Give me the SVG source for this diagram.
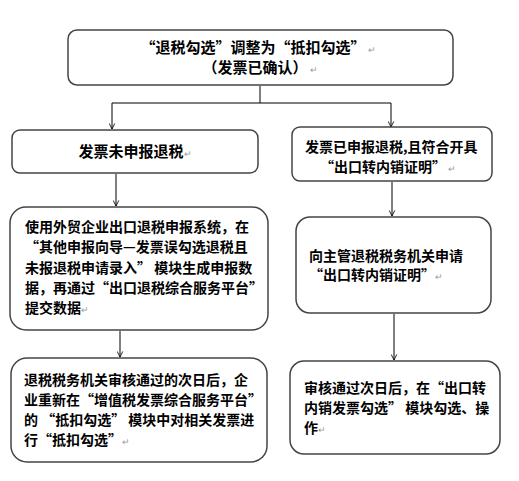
<svg xmlns="http://www.w3.org/2000/svg" width="519" height="481" viewBox="0 0 519 481">
<defs>
<style>
.box{fill:#fff;stroke:#444;stroke-width:1.5}
.t{font-family:"Noto Sans CJK SC","Liberation Sans",sans-serif;font-size:14px;font-weight:bold;fill:#000}
.big{font-size:15px}
.pm{font-size:9px;font-weight:normal;fill:#999}
.c{fill:none;stroke:#000;stroke-width:1}
</style>
<marker id="ah" viewBox="0 0 10 10" refX="9" refY="5" markerWidth="7" markerHeight="7" orient="auto" markerUnits="userSpaceOnUse">
<path d="M1,1 L9,5 L1,9" fill="none" stroke="#000" stroke-width="1.2"/>
</marker>
</defs>
<rect width="519" height="481" fill="#fff"/>
<g id="connectors">
<path class="c" d="M260,86 V103"/>
<path class="c" d="M112,103 H391"/>
<path class="c" d="M112,103 V129" marker-end="url(#ah)"/>
<path class="c" d="M391,103 V127" marker-end="url(#ah)"/>
<path class="c" d="M116,174 V206" marker-end="url(#ah)"/>
<path class="c" d="M392,182 V216" marker-end="url(#ah)"/>
<path class="c" d="M120,331 V357" marker-end="url(#ah)"/>
<path class="c" d="M394,314 V360" marker-end="url(#ah)"/>
</g>
<g id="top">
<rect class="box" x="68" y="30" width="385" height="55" rx="9"/>
<text class="t big" x="258" y="53" text-anchor="middle">“退税勾选”调整为“抵扣勾选”<tspan class="pm"> ↵</tspan></text>
<text class="t big" x="260" y="73" text-anchor="middle">（发票已确认）<tspan class="pm"> ↵</tspan></text>
</g>
<g id="left1">
<rect class="box" x="12" y="130" width="246" height="43" rx="8"/>
<text class="t big" x="135" y="157" text-anchor="middle">发票未申报退税<tspan class="pm">↵</tspan></text>
</g>
<g id="left2">
<rect class="box" x="10" y="207" width="258" height="123" rx="16"/>
<text class="t" x="25" y="232">使用外贸企业出口退税申报系统，在</text>
<text class="t" x="25" y="252">“其他申报向导—发票误勾选退税且</text>
<text class="t" x="25" y="273">未报退税申请录入” 模块生成申报数</text>
<text class="t" x="25" y="293">据，再通过“出口退税综合服务平台”</text>
<text class="t" x="25" y="313">提交数据<tspan class="pm">↵</tspan></text>
</g>
<g id="left3">
<rect class="box" x="11" y="358" width="256" height="104" rx="16"/>
<text class="t" x="24" y="385">退税税务机关审核通过的次日后，企</text>
<text class="t" x="24" y="405">业重新在“增值税发票综合服务平台”</text>
<text class="t" x="24" y="425">的 “抵扣勾选” 模块中对相关发票进</text>
<text class="t" x="24" y="445">行“抵扣勾选”<tspan class="pm">↵</tspan></text>
</g>
<g id="right1">
<rect class="box" x="292" y="127" width="200" height="54" rx="8"/>
<text class="t" x="305" y="152">发票已申报退税,且符合开具</text>
<text class="t" x="320" y="172">“出口转内销证明”<tspan class="pm"> ↵</tspan></text>
</g>
<g id="right2">
<rect class="box" x="296" y="217" width="195" height="96" rx="14"/>
<text class="t" x="309" y="261">向主管退税税务机关申请</text>
<text class="t" x="309" y="280">“出口转内销证明”<tspan class="pm">↵</tspan></text>
</g>
<g id="right3">
<rect class="box" x="290" y="361" width="210" height="93" rx="14"/>
<text class="t" x="304" y="393">审核通过次日后，在“出口转</text>
<text class="t" x="304" y="413">内销发票勾选” 模块勾选、操</text>
<text class="t" x="304" y="433">作<tspan class="pm">↵</tspan></text>
</g>
</svg>
